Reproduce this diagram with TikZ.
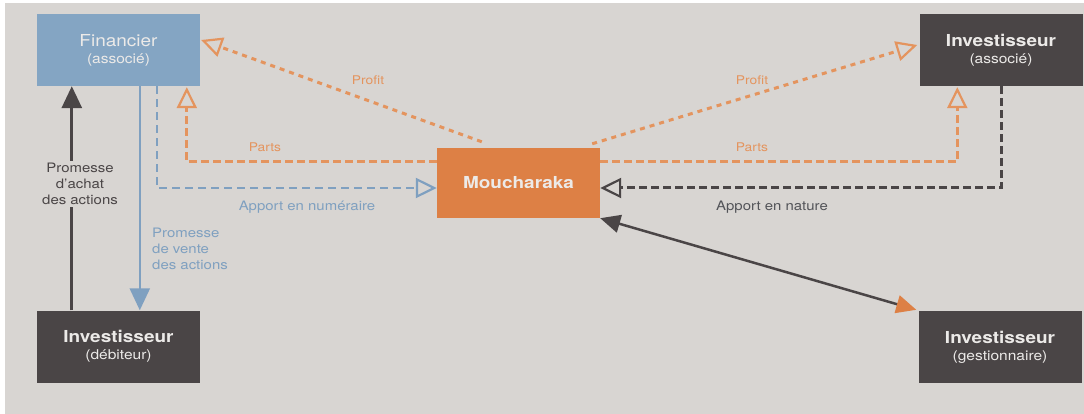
\documentclass[tikz,border=0pt]{standalone}
\usepackage{fontspec}
\setmainfont{TeX Gyre Heros}[FakeStretch=1.15]
\usetikzlibrary{arrows.meta,calc}

\definecolor{bg}{HTML}{D8D5D2}
\definecolor{fblue}{HTML}{84A5C3}
\definecolor{lblue}{HTML}{7FA0C0}
\definecolor{morange}{HTML}{DD8045}
\definecolor{lorange}{HTML}{E4945E}
\definecolor{dgray}{HTML}{4A4546}
\definecolor{ltext}{HTML}{ECEAE8}

\newcommand\boxhead[1]{{\fontsize{16.5}{20}\selectfont\bfseries #1}}
\newcommand\boxsub[1]{{\fontsize{13.5}{16}\selectfont #1}}

\tikzset{
  box/.style={minimum width=163pt, minimum height=72pt, inner sep=0pt,
    align=center, text=ltext},
  lbl/.style={inner sep=0pt, font=\fontsize{12}{15}\selectfont},
  sidelbl/.style={inner sep=0pt, font=\fontsize{13}{16}\selectfont},
  opentip/.style={-{Triangle[open,length=21pt,width=20pt,line width=2.2pt]}},
  profit/.style={lorange, line width=3pt, dash pattern=on 5pt off 5pt, opentip},
  parts/.style={lorange, line width=2.8pt, dash pattern=on 8pt off 4pt, opentip},
  cash/.style={lblue, line width=2.6pt, dash pattern=on 8pt off 5pt, opentip},
  kind/.style={dgray, line width=3pt, dash pattern=on 8pt off 4pt, opentip},
}

\begin{document}
\begin{tikzpicture}[x=1pt,y=-1pt]
  % page and background panel
  \fill[white] (0,0) rectangle (1084,414);
  \fill[bg] (5,3) rectangle (1084,414);
  \useasboundingbox (0,0) rectangle (1084,414);

  % partners
  \node[box, fill=fblue, text=ltext] (fin) at (118.5,50)
    {{\fontsize{16.5}{20}\selectfont Financier}\\[5pt]\boxsub{(associé)}};
  \node[box, fill=dgray] (ia) at (1001,50)
    {\boxhead{Investisseur}\\[5pt]\boxsub{(associé)}};
  \node[box, fill=dgray] (deb) at (118.5,346.5)
    {\boxhead{Investisseur}\\[5pt]\boxsub{(débiteur)}};
  \node[box, fill=dgray] (ges) at (1000,347)
    {\boxhead{Investisseur}\\[5pt]\boxsub{(gestionnaire)}};
  \node[box, fill=morange, minimum height=70pt] (mou) at (518.5,183)
    {\boxhead{Moucharaka}};

  % anchor points on the partnership box
  \coordinate (pl) at ($(mou.north west)+(45,-6)$);
  \coordinate (pr) at ($(mou.north east)+(-8,-4)$);
  \coordinate (partsW) at ($(mou.north west)+(0,14)$);
  \coordinate (partsE) at ($(mou.north east)+(0,14)$);
  \coordinate (inW) at ($(mou.west)+(0,5)$);
  \coordinate (inE) at ($(mou.east)+(0,5)$);

  % profit shares
  \draw[profit] (pl) -- ($(fin.east)+(1,-10)$);
  \draw[profit] (pr) -- ($(ia.west)+(-2,-5)$);
  \node[lbl, text=lorange] (profitL) at (368,80) {Profit};
  \node[lbl, text=lorange] (profitR) at (752,80) {Profit};

  % shares
  \draw[parts] (partsW) -| ($(fin.south west)+(150,1)$);
  \draw[parts] (partsE) -| ($(ia.south west)+(38,1)$);
  \node[lbl, text=lorange] (partsLl) at (265,147) {Parts};
  \node[lbl, text=lorange] (partsLr) at (752,147) {Parts};

  % contributions
  \draw[cash] ($(fin.south west)+(120,0)$) |- (inW);
  \draw[kind] ($(ia.south west)+(82,0)$) |- (inE);
  \node[sidelbl, text=lblue] (numer) at (307,207) {Apport en numéraire};
  \node[sidelbl, text=dgray!85!lblue] (nature) at (772,207) {Apport en nature};

  % purchase and sale promises
  \draw[dgray, line width=3pt, -{Triangle[length=22pt,width=20pt]}]
    ($(deb.north west)+(35,0)$) -- ($(fin.south west)+(35,0)$);
  \draw[lblue, line width=2.5pt, -{Triangle[length=22pt,width=20pt]}]
    ($(fin.south west)+(103,0)$) -- ($(deb.north west)+(103,0)$);
  \node[sidelbl, text=dgray, align=center, fill=bg, inner sep=2pt] (achat) at (80,184)
    {Promesse\\d'achat\\des actions};
  \node[sidelbl, text=lblue, align=left, anchor=west] (vente) at (152,249)
    {Promesse\\de vente\\des actions};

  % management link
  \draw[dgray, line width=2.5pt,
    {Triangle[length=20pt,width=18pt,color=dgray]}-{Triangle[length=20pt,width=18pt,color=morange]}]
    (mou.south east) -- ($(ges.north west)+(-2,-1)$);
\end{tikzpicture}
\end{document}
